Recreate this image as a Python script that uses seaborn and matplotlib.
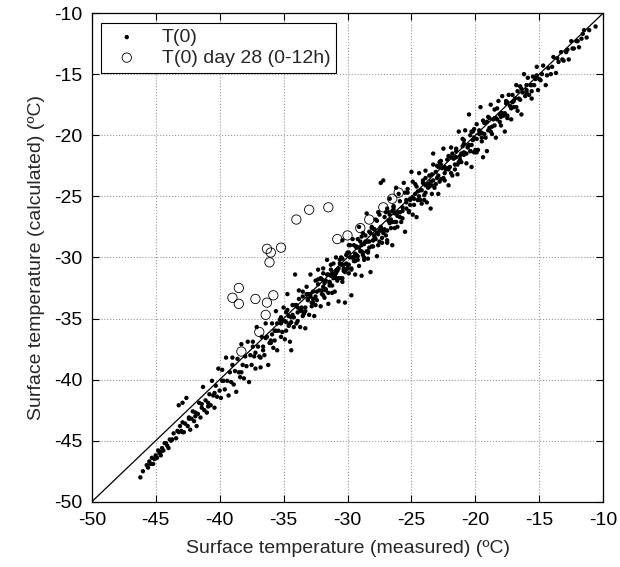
import numpy as np
import pandas as pd
import matplotlib
matplotlib.use("Agg")
import matplotlib.pyplot as plt
import seaborn as sns

# Measured vs calculated surface temperature, T(0) all days
measured_t0 = [
    -46.2, -46.0, -45.7, -45.6, -45.5, -45.4, -45.3, -45.2, -45.1, -45.0,
    -44.9, -44.8, -44.7, -44.6, -44.5, -44.4, -44.3, -44.1, -44.0, -43.9,
    -43.7, -43.6, -43.4, -43.2, -43.1,
    -43.0, -42.9, -42.8, -42.7, -42.6, -42.5, -42.4, -42.3, -42.2, -42.1,
    -42.0, -41.9, -41.8, -41.7, -41.6, -41.5, -41.4, -41.3, -41.2, -41.1,
    -41.0, -40.9, -40.8, -40.7, -40.6, -40.5, -40.4, -40.3, -40.2, -40.1,
    -43.2, -42.9,
    -40.0, -39.9, -39.8, -39.7, -39.6, -39.5, -39.4, -39.3, -39.2, -39.1,
    -39.0, -38.9, -38.8, -38.7, -38.6, -38.5, -38.4, -38.3, -38.2, -38.1,
    -38.0, -37.9, -37.8, -37.7, -37.6, -37.5, -37.4, -37.3, -37.2, -37.1,
    -37.0, -36.9, -36.8, -36.7, -36.6, -36.5, -36.4, -36.3, -36.2, -36.1,
    -39.8, -39.0, -38.3, -37.4, -36.6,
    -36.0, -35.9, -35.8, -35.7, -35.6, -35.5, -35.4, -35.3, -35.2, -35.1,
    -35.0, -34.9, -34.8, -34.7, -34.6, -34.5, -34.4, -34.3, -34.2, -34.1,
    -34.0, -33.9, -33.8, -33.7, -33.6, -33.5, -33.4, -33.3, -33.2, -33.1,
    -33.0, -32.9, -32.8, -32.7, -32.6, -32.5, -32.4, -32.3, -32.2, -32.1,
    -35.9, -35.5, -35.1, -34.6, -34.2, -33.8, -33.3, -32.9, -32.5, -32.0,
    -35.7, -35.2, -34.8, -34.4, -33.9, -33.5, -33.1, -32.7, -32.3, -32.0,
    -32.0, -31.9, -31.8, -31.7, -31.6, -31.5, -31.4, -31.3, -31.2, -31.1,
    -31.0, -30.9, -30.8, -30.7, -30.6, -30.5, -30.4, -30.3, -30.2, -30.1,
    -30.0, -29.9, -29.8, -29.7, -29.6, -29.5, -29.4, -29.3, -29.2, -29.1,
    -29.0, -28.9, -28.8, -28.7, -28.6, -28.5, -28.4, -28.3, -28.2, -28.1,
    -28.0, -27.9, -27.8, -27.7, -27.6, -27.5, -27.4, -27.3, -27.2, -27.1,
    -27.0, -26.9, -26.8, -26.7, -26.6, -26.5, -26.4, -26.3, -26.2, -26.1,
    -31.9, -31.5, -31.1, -30.7, -30.3, -29.9, -29.5, -29.1, -28.7, -28.3,
    -27.9, -27.5, -27.1, -26.7, -26.3, -31.7, -31.3, -30.9, -30.5, -30.1,
    -29.7, -29.3, -28.9, -28.5, -28.1, -27.7, -27.3, -26.9, -26.5, -26.1,
    -31.8, -31.2, -30.6, -30.0, -29.4, -28.8, -28.2, -27.6, -27.0, -26.4,
    -31.6, -31.0, -30.4, -29.8, -29.2, -28.6, -28.0, -27.4, -26.8, -26.2,
    -31.4, -30.8, -30.2, -29.6, -29.0, -28.4, -27.8, -27.2, -26.6, -26.0,
    -25.9, -25.8, -25.7, -25.6, -25.5, -25.4, -25.3, -25.2, -25.1, -25.0,
    -24.9, -24.8, -24.7, -24.6, -24.5, -24.4, -24.3, -24.2, -24.1, -24.0,
    -23.9, -23.8, -23.7, -23.6, -23.5, -23.4, -23.3, -23.2, -23.1, -23.0,
    -22.9, -22.8, -22.7, -22.6, -22.5, -22.4, -22.3, -22.2, -22.1, -22.0,
    -21.9, -21.8, -21.7, -21.6, -21.5, -21.4, -21.3, -21.2, -21.1, -21.0,
    -20.9, -20.8, -20.7, -20.6, -20.5, -20.4, -20.3, -20.2, -20.1, -20.0,
    -25.7, -25.1, -24.5, -23.9, -23.3, -22.7, -22.1, -21.5, -20.9, -20.3,
    -25.4, -24.8, -24.2, -23.6, -23.0, -22.4, -21.8, -21.2, -20.6, -20.1,
    -25.2, -24.6, -24.0, -23.4, -22.8, -22.2, -21.6, -21.0, -20.4, -20.2,
    -19.9, -19.8, -19.7, -19.6, -19.5, -19.4, -19.3, -19.2, -19.1, -19.0,
    -18.9, -18.8, -18.7, -18.6, -18.5, -18.4, -18.3, -18.2, -18.1, -18.0,
    -17.9, -17.8, -17.7, -17.6, -17.5, -17.4, -17.3, -17.2, -17.1, -17.0,
    -16.9, -16.8, -16.7, -16.6, -16.5, -16.4, -16.3, -16.2, -16.1, -16.0,
    -15.9, -15.8, -15.7, -15.6, -15.5, -15.4, -15.3, -15.2, -15.1, -15.0,
    -19.5, -19.0, -18.5, -18.0, -17.5, -17.0, -16.5, -16.0, -15.6, -15.2,
    -14.9, -14.7, -14.5, -14.3, -14.1, -13.9, -13.7, -13.5, -13.3, -13.1,
    -12.9, -12.7, -12.5, -12.3, -12.1, -11.9, -11.7, -11.5, -11.3, -11.1,
    -14.8, -14.4, -14.0, -13.6, -13.2, -12.8, -12.4, -12.0, -11.6, -10.6,
    -34.9, -34.5, -34.1, -33.7, -33.3, -32.9, -32.5, -32.1, -31.7, -31.3,
    -30.9, -30.5, -30.1, -29.7, -29.3, -28.9, -28.5, -28.1, -27.7, -27.3,
    -26.9, -26.5, -26.1, -25.7, -25.3, -24.9, -24.5, -24.1, -23.7, -23.3,
    -22.9, -22.5, -22.1, -21.7, -21.3, -20.9, -20.5, -20.1, -19.7, -19.3,
    -18.9, -18.5, -18.1, -17.7, -34.7, -34.3, -33.9, -33.5, -33.1, -32.7,
    -32.3, -31.9, -31.5, -31.1, -30.7, -30.3, -29.9, -29.5, -29.1, -28.7,
    -28.3, -27.9, -27.5, -27.1, -26.7, -26.3, -25.9, -25.5, -25.1, -24.7,
    -24.3, -23.9, -23.5, -23.1, -22.7, -22.3, -21.9, -21.5, -21.1, -20.7,
    -20.3, -19.9, -19.5, -19.1, -18.7, -18.3, -17.9, -17.5, -17.1, -16.7,
    -33.6, -33.2, -32.8, -32.4, -31.9, -31.4, -30.9, -30.4, -29.9, -29.4,
    -28.9, -28.4, -27.9, -27.4, -26.9, -26.4, -25.9, -25.4, -24.9, -24.4,
    -23.9, -23.4, -22.9, -22.4, -21.9, -21.4, -20.9, -20.4, -19.9, -19.4,
    -37.2, -36.8, -36.4, -36.0, -35.6, -35.2, -34.8, -34.4, -34.0, -33.6,
    -31.2, -30.8, -30.4, -30.0, -29.6, -29.2, -28.8, -28.4, -28.0, -27.6,
    -18.8, -18.4, -18.0, -17.6, -17.2, -16.8, -16.4, -16.0, -15.6, -15.2,
    -44.6, -44.2, -43.8, -43.3, -42.9, -42.4, -41.9, -41.4, -40.9, -40.4,
]
calculated_t0 = [
    -48.0, -47.5, -47.0, -47.2, -46.7, -46.9, -46.4, -46.9, -46.5, -46.2,
    -46.4, -45.8, -46.0, -46.2, -45.6, -45.8, -45.2, -45.4, -45.6, -44.9,
    -44.9, -44.4, -44.8, -44.3, -43.8,
    -44.2, -43.5, -44.3, -43.6, -41.5, -43.8, -43.1, -44.1, -43.2, -42.6,
    -43.4, -42.7, -43.8, -42.8, -41.9, -43.1, -42.3, -40.6, -42.5, -41.7,
    -42.7, -41.9, -41.2, -42.1, -40.1, -41.3, -42.3, -40.5, -41.4, -39.1,
    -42.1, -41.9,
    -40.9, -41.5, -39.2, -40.1, -40.8, -38.2, -40.1, -41.3, -39.4, -40.2,
    -38.2, -40.4, -39.3, -41.0, -38.3, -39.4, -39.8, -37.1, -38.8, -39.9,
    -38.1, -38.9, -36.9, -40.2, -38.0, -38.8, -36.9, -38.1, -39.1, -35.7,
    -37.3, -38.1, -39.0, -36.5, -37.3, -38.0, -35.4, -36.5, -38.8, -37.0,
    -40.1, -38.8, -39.4, -37.3, -37.6,
    -36.8, -35.4, -37.4, -36.0, -34.4, -37.6, -36.0, -35.1, -36.5, -35.2,
    -34.1, -36.7, -35.3, -33.0, -35.6, -36.9, -37.6, -33.9, -34.9, -31.4,
    -35.4, -34.1, -32.7, -35.7, -34.2, -33.2, -34.6, -35.8, -32.4, -33.5,
    -34.7, -31.4, -33.7, -32.8, -34.8, -31.9, -33.5, -31.0, -32.7, -34.0,
    -36.3, -35.4, -36.1, -34.8, -35.7, -33.4, -34.1, -33.2, -33.9, -31.8,
    -36.8, -35.4, -34.5, -35.3, -34.5, -34.8, -33.0, -33.4, -31.8, -33.0,
    -32.7, -31.3, -33.3, -31.9, -30.2, -33.8, -32.3, -31.0, -32.3, -31.5,
    -32.8, -30.0, -31.1, -33.6, -30.5, -31.7, -28.6, -30.9, -33.7, -31.0,
    -29.6, -31.3, -30.0, -33.1, -28.5, -30.3, -31.4, -29.1, -30.2, -27.5,
    -29.5, -31.5, -28.0, -30.0, -28.7, -26.4, -30.1, -28.7, -31.2, -27.6,
    -29.1, -27.7, -28.5, -29.9, -26.3, -27.8, -23.9, -28.8, -23.7, -27.7,
    -26.3, -28.8, -27.0, -25.2, -27.6, -29.0, -26.1, -27.1, -24.3, -27.5,
    -33.1, -31.4, -31.7, -31.7, -30.6, -30.6, -29.0, -30.7, -28.9, -29.2,
    -28.3, -28.7, -26.7, -27.2, -26.4, -32.6, -30.6, -31.3, -30.6, -29.8,
    -31.0, -29.8, -29.0, -29.5, -27.5, -28.0, -28.4, -26.0, -27.1, -26.3,
    -32.1, -32.9, -30.2, -30.6, -29.7, -29.6, -28.0, -28.1, -28.2, -25.8,
    -31.4, -31.5, -31.7, -29.0, -29.9, -28.2, -28.6, -27.5, -26.3, -27.1,
    -32.0, -31.0, -31.2, -30.0, -28.7, -29.6, -26.9, -28.0, -26.9, -24.8,
    -25.4, -27.1, -25.9, -23.9, -27.9, -26.0, -24.4, -26.2, -25.2, -23.0,
    -26.5, -25.2, -24.0, -26.7, -25.3, -23.1, -24.5, -25.6, -23.7, -24.9,
    -22.9, -25.5, -24.0, -23.3, -26.0, -24.1, -21.5, -24.3, -23.0, -23.5,
    -24.8, -22.2, -23.6, -22.7, -21.1, -23.7, -22.7, -22.0, -24.1, -22.6,
    -21.0, -23.3, -21.9, -22.4, -21.1, -23.2, -19.7, -21.7, -22.2, -20.9,
    -21.6, -19.6, -22.3, -20.9, -18.3, -21.3, -22.6, -19.7, -20.2, -21.2,
    -26.2, -25.3, -24.6, -24.7, -23.7, -22.4, -22.8, -21.8, -20.7, -20.8,
    -25.3, -25.7, -24.5, -24.2, -22.5, -22.6, -21.5, -22.0, -21.0, -19.5,
    -26.3, -24.2, -25.3, -23.2, -23.8, -22.7, -22.8, -20.3, -21.3, -20.4,
    -19.1, -21.2, -19.9, -17.7, -20.2, -21.8, -19.0, -20.2, -21.3, -18.5,
    -19.4, -17.5, -19.9, -18.7, -17.9, -20.2, -18.7, -17.2, -18.9, -18.2,
    -16.8, -18.4, -19.7, -17.4, -18.4, -16.7, -17.6, -18.7, -16.7, -17.7,
    -17.0, -15.9, -18.0, -17.0, -16.0, -18.3, -16.5, -15.0, -16.8, -16.3,
    -15.3, -16.7, -15.9, -17.0, -15.2, -15.9, -15.4, -14.4, -16.3, -15.4,
    -19.8, -19.6, -18.6, -18.5, -17.3, -17.2, -17.1, -15.9, -15.9, -15.3,
    -15.5, -14.3, -15.9, -14.5, -15.0, -13.6, -14.9, -14.0, -13.2, -13.9,
    -13.2, -13.8, -12.3, -12.9, -12.3, -12.8, -12.1, -11.4, -12.0, -11.4,
    -15.0, -15.1, -14.4, -13.7, -13.8, -13.0, -12.9, -12.3, -11.7, -11.1,
    -35.2, -35.4, -33.9, -34.3, -34.4, -33.0, -33.2, -31.7, -32.7, -31.5,
    -31.7, -30.0, -30.5, -30.9, -29.2, -29.5, -28.7, -29.1, -27.0, -27.7,
    -27.8, -26.2, -26.6, -26.8, -24.7, -25.1, -25.3, -23.9, -24.3, -22.4,
    -23.3, -23.5, -21.7, -21.9, -22.2, -20.4, -20.8, -21.4, -19.6, -19.9,
    -18.6, -19.2, -18.3, -18.2, -34.3, -34.7, -35.2, -32.8, -33.4, -33.7,
    -32.2, -32.4, -32.9, -30.5, -30.9, -31.1, -29.0, -30.0, -29.2, -30.2,
    -27.9, -28.2, -26.5, -27.8, -26.5, -27.6, -26.3, -24.7, -25.7, -24.8,
    -25.3, -23.5, -23.8, -24.0, -22.1, -22.8, -23.1, -21.3, -21.5, -21.5,
    -19.7, -20.3, -20.5, -18.9, -19.3, -17.8, -18.2, -18.6, -17.3, -16.4,
    -34.1, -33.0, -34.0, -32.8, -30.9, -32.1, -31.2, -32.0, -29.6, -30.3,
    -28.3, -29.5, -27.7, -27.8, -28.6, -25.9, -26.7, -25.5, -23.8, -25.0,
    -24.1, -24.8, -22.6, -23.1, -21.8, -22.4, -21.4, -20.0, -21.4, -18.8,
    -37.8, -38.2, -36.6, -37.0, -36.0, -34.9, -36.0, -34.9, -33.9, -34.4,
    -31.3, -31.9, -30.1, -30.9, -30.0, -28.5, -29.8, -28.7, -28.6, -29.0,
    -19.7, -18.6, -19.2, -17.2, -17.8, -17.7, -16.2, -16.5, -16.4, -15.1,
    -45.9, -45.2, -45.0, -44.2, -44.3, -43.2, -43.0, -42.0, -42.2, -41.1,
]

# Day 28, 0-12h
measured_d28 = [
    -38.5, -39.0, -38.5, -37.2, -36.3, -35.8, -36.4, -36.9, -38.3,
    -36.3, -36.0, -36.1, -35.2, -34.0, -33.0, -31.5, -30.8, -30.0,
    -29.0, -28.3, -27.2, -26.5, -26.0,
]
calculated_d28 = [
    -32.5, -33.3, -33.8, -33.4, -33.7, -33.1, -34.7, -36.1, -37.7,
    -29.3, -29.6, -30.4, -29.2, -26.9, -26.1, -25.9, -28.5, -28.2,
    -27.6, -26.9, -25.9, -25.2, -24.7,
]

one_to_one = [-50, -10]
ticks = [-50, -45, -40, -35, -30, -25, -20, -15, -10]

df_all = pd.DataFrame({"measured": measured_t0, "calculated": calculated_t0})
df_d28 = pd.DataFrame({"measured": measured_d28, "calculated": calculated_d28})

sns.set_style("ticks")
plt.rcParams["font.family"] = ["Liberation Sans", "DejaVu Sans"]
plt.rcParams["axes.unicode_minus"] = False

fig = plt.figure(figsize=(6.2, 5.67), dpi=100)
ax = fig.add_axes([0.148, 0.115, 0.825, 0.862])

ax.plot(one_to_one, one_to_one, color="black", lw=0.9, zorder=2)
sns.scatterplot(data=df_all, x="measured", y="calculated", ax=ax,
                marker="o", s=10, color="black", edgecolor="none",
                label="T(0)", zorder=3)
sns.scatterplot(data=df_d28, x="measured", y="calculated", ax=ax,
                marker="o", s=45, facecolor="none", edgecolor="black",
                linewidth=0.6, label="T(0) day 28 (0-12h)", zorder=4)

ax.set_xlim(-50, -10)
ax.set_ylim(-50, -10)
ax.set_xticks(ticks)
ax.set_yticks(ticks)
ax.grid(True, linestyle=":", color="#999999", linewidth=0.8)
ax.tick_params(direction="in", top=True, right=True, length=5, width=0.8,
               labelsize=14, colors="black", pad=7)
for sp in ax.spines.values():
    sp.set_color("black")
    sp.set_linewidth(0.9)

ax.set_xlabel("Surface temperature (measured) (ºC)", fontsize=14, labelpad=8)
ax.set_ylabel("Surface temperature (calculated) (ºC)", fontsize=14, labelpad=6)

leg = ax.legend(loc="upper left", fontsize=14, frameon=True, fancybox=False,
                borderaxespad=0.5, handletextpad=0.8, borderpad=0.3,
                labelspacing=0.15, markerscale=1.0)
leg.get_frame().set_edgecolor("black")
leg.get_frame().set_linewidth(0.8)
leg.get_frame().set_alpha(1)

fig.savefig("out.png", dpi=100)
